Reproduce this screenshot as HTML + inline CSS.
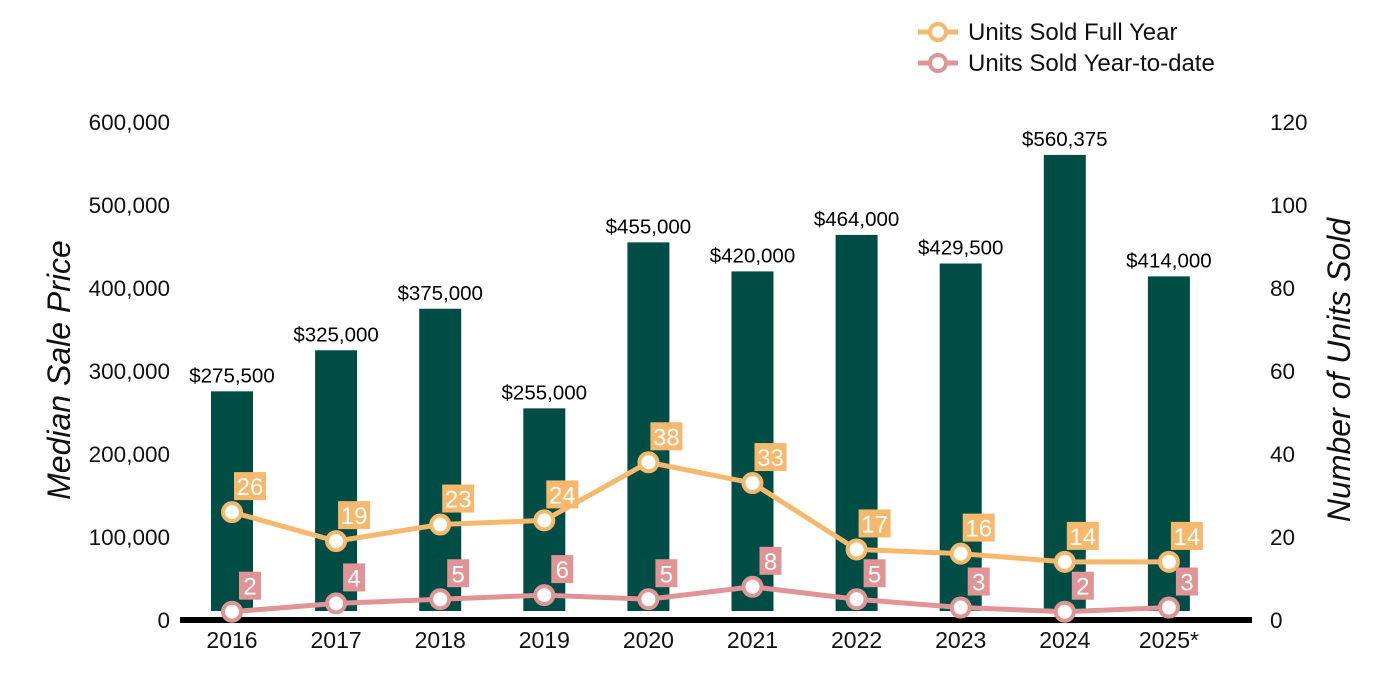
<!DOCTYPE html>
<html><head><meta charset="utf-8"><style>
body{margin:0;background:#fff}
svg{display:block;font-family:"Liberation Sans",Arial,sans-serif}
</style></head><body>
<svg id="c" width="1400" height="700"></svg>
<script>
const categories=["2016","2017","2018","2019","2020","2021","2022","2023","2024","2025*"];
const prices=[275500,325000,375000,255000,455000,420000,464000,429500,560375,414000];
const fullYear=[26,19,23,24,38,33,17,16,14,14];
const ytd=[2,4,5,6,5,8,5,3,2,3];
const leftTicks=[0,100000,200000,300000,400000,500000,600000];
const rightTicks=[0,20,40,60,80,100,120];
const NS="http://www.w3.org/2000/svg";
const svg=document.getElementById('c');
function el(t,a,txt){const e=document.createElementNS(NS,t);for(const k in a)e.setAttribute(k,a[k]);if(txt!==undefined)e.textContent=txt;svg.appendChild(e);return e;}
const y0=620,yTop=122;
const yL=v=>y0-(v/600000)*(y0-yTop);
const yR=v=>y0-(v/120)*(y0-yTop);
const xC=i=>232+i*104.1;
leftTicks.forEach(t=>{const e=el('text',{x:170,y:yL(t)+8,'text-anchor':'end','font-size':22.5,fill:'#111'},t.toLocaleString('en-US'));

});
rightTicks.forEach(t=>{const e=el('text',{x:1270,y:yR(t)+8,'font-size':22.5,fill:'#111'},t);

});
let t1=el('text',{x:0,y:0,transform:'translate(70,370) rotate(-90)','text-anchor':'middle','font-size':32,'font-style':'italic',fill:'#111'},'Median Sale Price');

let t2=el('text',{x:0,y:0,transform:'translate(1350,370) rotate(-90)','text-anchor':'middle','font-size':32,'font-style':'italic',fill:'#111'},'Number of Units Sold');

categories.forEach((c,i)=>{
 const top=yL(prices[i]);
 const b=el('rect',{x:xC(i)-21,y:top,width:42,height:611-top,fill:'#004d45'});
 
 
 const l=el('text',{x:xC(i),y:top-9,'text-anchor':'middle','font-size':20.5,fill:'#000'},'$'+prices[i].toLocaleString('en-US'));
 
 
 const x=el('text',{x:xC(i),y:648,'text-anchor':'middle','font-size':23,fill:'#111'},c);
 
 
});
const ax=el('rect',{x:180,y:617,width:1072,height:6,fill:'#000'});

function series(vals,color,name){
 const p=el('polyline',{points:vals.map((v,i)=>xC(i)+','+yR(v)).join(' '),fill:'none',stroke:color,'stroke-width':5});
 
 
 vals.forEach((v,i)=>{
  const m=el('circle',{cx:xC(i),cy:yR(v),r:9,fill:'#fff',stroke:color,'stroke-width':4});
  
  
  const s=String(v),w=s.length>1?32:22;
  const bx=el('rect',{x:xC(i)+18-(w/2)+(s.length>1?0:0),y:yR(v)-40,width:w,height:28,fill:color});
  bx.setAttribute('x',xC(i)+18-w/2+0);
  
  
  const t=el('text',{x:xC(i)+18,y:yR(v)-17,'text-anchor':'middle','font-size':24,fill:'#fff'},s);
  
  
 });
}
series(fullYear,'#f5b86c','full-year');
series(ytd,'#e09496','ytd');
[['Units Sold Full Year','#f5b86c',32],['Units Sold Year-to-date','#e09496',63]].forEach(([n,c,y])=>{
 const g=el('line',{x1:918,y1:y,x2:958,y2:y,stroke:c,'stroke-width':5});
 
 const ci=el('circle',{cx:938,cy:y,r:8,fill:'#fff',stroke:c,'stroke-width':4});
 
 const t=el('text',{x:968,y:y+8,'font-size':24,fill:'#111'},n);
 
});
</script>
</body></html>
